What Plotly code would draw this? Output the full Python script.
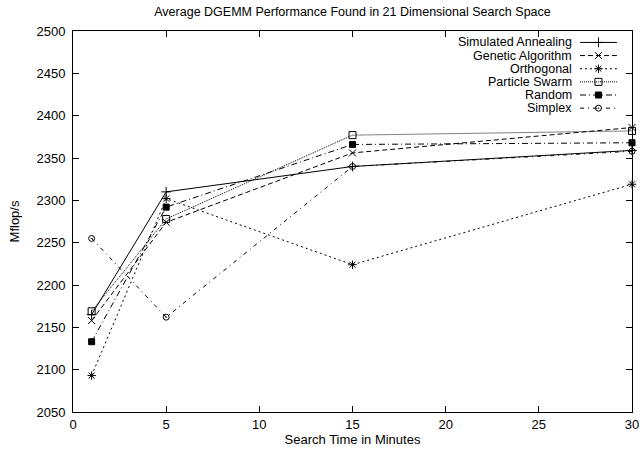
import plotly.graph_objects as go

minutes = [1, 5, 15, 30]
series_names = ["Simulated Annealing", "Genetic Algorithm", "Orthogonal",
                "Particle Swarm", "Random", "Simplex"]
sa = [2165, 2310, 2340, 2359]
ga = [2158, 2274, 2356, 2386]
orth = [2093, 2302, 2224, 2319]
ps = [2169, 2278, 2377, 2382]
rnd = [2133, 2292, 2366, 2368]
simplex = [2255, 2162, 2340, 2358]
series_values = [sa, ga, orth, ps, rnd, simplex]

x_ticks = [0, 5, 10, 15, 20, 25, 30]
y_ticks = [2050, 2100, 2150, 2200, 2250, 2300, 2350, 2400, 2450, 2500]

styles = [
    dict(dash="solid", symbol="cross-thin", msize=7, color="#000000"),
    dict(dash="5px,3px", symbol="x-thin", msize=7, color="#000000"),
    dict(dash="2px,3px", symbol="asterisk", msize=7, color="#000000"),
    dict(dash="1px,1px", symbol="square-open", msize=7, color="#000000"),
    dict(dash="6px,3px,1px,3px", symbol="square", msize=6, color="#000000"),
    dict(dash="4px,4px,1px,4px", symbol="circle-open-dot", msize=6, color="#000000"),
]

FONT = "Liberation Sans, Arial, Helvetica, sans-serif"

fig = go.Figure()
for name, vals, st in zip(series_names, series_values, styles):
    fig.add_trace(go.Scatter(
        x=minutes, y=vals, name=name, mode="lines+markers",
        line=dict(color=st["color"], width=1, dash=st["dash"]),
        marker=dict(symbol=st["symbol"], size=st["msize"], color=st["color"],
                    line=dict(color=st["color"], width=1)),
        showlegend=False, cliponaxis=False,
    ))

# manual gnuplot-style legend (text right-aligned, sample to the right)
legend_top = 0.970
legend_step = 0.0345
sample_x0, sample_x1 = 0.907, 0.973
for i, (name, st) in enumerate(zip(series_names, styles)):
    yy = legend_top - i * legend_step
    fig.add_annotation(x=0.895, y=yy, xref="paper", yref="paper", text=name,
                       showarrow=False, xanchor="right", yanchor="middle",
                       borderpad=0,
                       font=dict(family=FONT, size=12.5, color="#000"))
    fig.add_trace(go.Scatter(
        x=[sample_x0, (sample_x0 + sample_x1) / 2, sample_x1], y=[yy, yy, yy],
        xaxis="x2", yaxis="y2", mode="lines",
        line=dict(color=st["color"], width=1, dash=st["dash"]),
        showlegend=False, hoverinfo="skip"))
    fig.add_trace(go.Scatter(
        x=[(sample_x0 + sample_x1) / 2], y=[yy],
        xaxis="x2", yaxis="y2", mode="markers",
        marker=dict(symbol=st["symbol"], size=st["msize"], color=st["color"],
                    line=dict(color=st["color"], width=1)),
        showlegend=False, hoverinfo="skip"))

axis_common = dict(showgrid=False, zeroline=False, showline=True, linecolor="#000",
                   linewidth=1, mirror="ticks", ticks="inside", ticklen=6,
                   tickcolor="#000", tickwidth=1, automargin=False,
                   tickfont=dict(family=FONT, size=13, color="#000"))

fig.update_layout(
    width=640, height=451,
    margin=dict(l=73, r=8, t=31, b=39),
    paper_bgcolor="white", plot_bgcolor="white",
    title=dict(text="Average DGEMM Performance Found in 21 Dimensional Search Space",
               x=0.5508, xanchor="center", y=0.974, yanchor="middle",
               font=dict(family=FONT, size=12.5, color="#000")),
    xaxis=dict(range=[0, 30], tickvals=x_ticks,
               title=dict(text="Search Time in Minutes", standoff=4,
                          font=dict(family=FONT, size=13, color="#000")),
               **axis_common),
    yaxis=dict(range=[2050, 2500], tickvals=y_ticks, ticklabelstandoff=4,
               title=dict(text="Mflop/s", standoff=13,
                          font=dict(family=FONT, size=13, color="#000")),
               **axis_common),
    xaxis2=dict(overlaying="x", range=[0, 1], visible=False, fixedrange=True),
    yaxis2=dict(overlaying="y", range=[0, 1], visible=False, fixedrange=True),
    showlegend=False,
)

fig.write_html("out.html", config={"displayModeBar": False},
               post_script="document.body.style.margin='0';")
